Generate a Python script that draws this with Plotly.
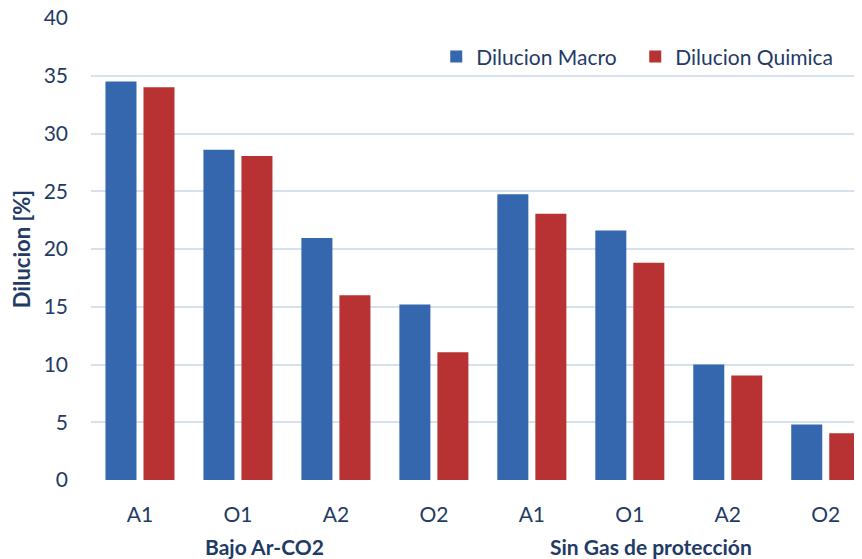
import plotly.graph_objects as go

categories = ["A1", "O1", "A2", "O2", "A1 ", "O1 ", "A2 ", "O2 "]
tick_labels = ["A1", "O1", "A2", "O2", "A1", "O1", "A2", "O2"]
macro = [34.5, 28.6, 20.95, 15.2, 24.75, 21.6, 10.0, 4.8]
quimica = [34.0, 28.05, 16.0, 11.05, 23.05, 18.8, 9.05, 4.05]
y_ticks = [0, 5, 10, 15, 20, 25, 30, 35, 40]
groups = ["Bajo Ar-CO2", "Sin Gas de protección"]
group_pos = [1.27, 5.22]

txt = "#1F3B66"
font = "Lato"

fig = go.Figure()
fig.add_bar(x=categories, y=macro, name="Dilucion Macro",
            marker=dict(color="#3467AD", line=dict(width=0)))
fig.add_bar(x=categories, y=quimica, name="Dilucion Quimica",
            marker=dict(color="#B83233", line=dict(width=0)))

for g, p in zip(groups, group_pos):
    fig.add_annotation(x=p, xref="x", y=0, yref="paper", yshift=-66,
                       yanchor="middle",
                       text="<b>" + g + "</b>", showarrow=False,
                       font=dict(family=font, size=21, color=txt))

# page body has an 8px margin: offset the margins so the plot lands where the reference has it
fig.update_layout(
    width=862, height=559,
    margin=dict(l=83, r=8, t=10, b=87),
    paper_bgcolor="white", plot_bgcolor="white",
    barmode="group", bargap=0.224, bargroupgap=0.184,
    font=dict(family=font, color=txt, size=21),
    showlegend=True,
    legend=dict(orientation="h", x=0.964, xanchor="right", y=0.916, yanchor="middle",
                font=dict(family=font, size=21, color=txt), itemwidth=30,
                entrywidth=154,
                traceorder="normal", bgcolor="rgba(0,0,0,0)"),
    xaxis=dict(type="category", range=[-0.5, 7.37], tickmode="array",
               tickvals=categories, ticktext=tick_labels, showgrid=False,
               showline=False, zeroline=False, ticks="", ticklabelstandoff=20,
               automargin=False,
               tickfont=dict(family=font, size=21, color=txt)),
    yaxis=dict(range=[0, 40], tickmode="array", tickvals=y_ticks,
               showgrid=True, gridcolor="#D6E1F0",
               gridwidth=2, zeroline=False, showline=False, ticks="",
               ticklabelstandoff=22, automargin=False, ticklabeloverflow="allow",
               tickfont=dict(family=font, size=21, color=txt),
               title=dict(text="<b>Dilucion [%]</b>", standoff=8,
                          font=dict(family=font, size=22, color=txt))),
)

fig.write_html("out.html")
